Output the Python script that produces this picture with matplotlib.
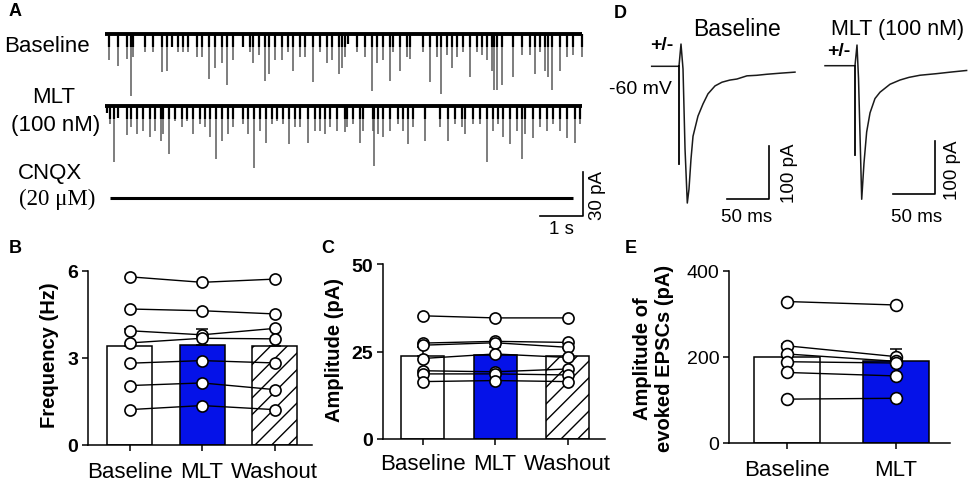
import matplotlib
matplotlib.use('Agg')
import matplotlib.pyplot as plt
import numpy as np

plt.rcParams['font.family'] = ['Liberation Sans', 'DejaVu Sans']
plt.rcParams['hatch.linewidth'] = 1.0

# ---------------- data ----------------
# Panel A: spontaneous EPSC events (time in s, amplitude in pA)
trace_dur = 11.1
base_t = [0.09, 0.30, 0.51, 0.60, 0.65, 0.93, 1.12, 1.33, 1.44, 1.56, 1.70, 1.81, 1.93, 2.14, 2.26,
          2.42, 2.56, 2.72, 2.84, 2.98, 3.21, 3.37, 3.44, 3.58, 3.72, 3.81, 3.95, 4.12, 4.26, 4.37,
          4.53, 4.65, 4.84, 5.00, 5.16, 5.28, 5.44, 5.51, 5.58, 5.65, 5.86, 6.05, 6.21, 6.33, 6.47,
          6.63, 6.70, 6.86, 7.02, 7.09, 7.40, 7.56, 7.72, 7.81, 7.95, 8.07, 8.19, 8.33, 8.49, 8.65,
          8.77, 8.88, 9.00, 9.05, 9.12, 9.23, 9.49, 9.70, 9.88, 10.00, 10.12, 10.23, 10.30, 10.40,
          10.58, 10.74, 10.88, 11.09]
base_amp = [18, 22, 17, 42, 16, 12, 12, 26, 25, 9, 12, 12, 12, 16, 16,
            31, 23, 20, 35, 18, 9, 12, 20, 14, 32, 27, 18, 18, 12, 25,
            16, 16, 33, 12, 20, 18, 27, 23, 16, 7, 12, 16, 39, 20, 18,
            32, 12, 25, 16, 17, 12, 33, 16, 41, 14, 23, 16, 12, 29, 12,
            14, 18, 25, 38, 38, 35, 29, 14, 14, 27, 12, 25, 29, 38,
            25, 16, 14, 16]
mlt_t = [0.05, 0.12, 0.21, 0.30, 0.51, 0.60, 0.74, 0.88, 1.05, 1.16, 1.30, 1.35, 1.49, 1.63, 1.79,
         1.91, 2.05, 2.21, 2.33, 2.44, 2.58, 2.72, 2.86, 2.98, 3.21, 3.33, 3.47, 3.60, 3.74, 3.88,
         4.00, 4.14, 4.28, 4.42, 4.53, 4.72, 4.88, 5.00, 5.12, 5.23, 5.40, 5.58, 5.63, 5.77, 5.93,
         6.00, 6.23, 6.26, 6.35, 6.47, 6.63, 6.81, 6.93, 7.05, 7.16, 7.44, 7.79, 7.98, 8.14, 8.30,
         8.37, 8.56, 8.72, 8.88, 9.02, 9.14, 9.26, 9.42, 9.58, 9.70, 9.77, 9.95, 10.12, 10.28,
         10.42, 10.58, 10.74, 10.93, 11.05]
mlt_amp = [5, 12, 38, 8, 20, 14, 19, 17, 21, 17, 24, 19, 33, 10, 14,
           10, 19, 12, 14, 21, 36, 24, 19, 14, 12, 19, 42, 17, 25, 12,
           10, 12, 26, 14, 14, 25, 17, 17, 19, 14, 17, 18, 14, 12, 25,
           17, 17, 41, 19, 21, 17, 12, 17, 26, 14, 24, 14, 24, 12, 14,
           19, 12, 12, 38, 17, 12, 21, 26, 17, 36, 19, 22, 14, 17,
           12, 17, 22, 25, 12]
cnqx_span = [0.12, 10.88]

# Panel D: evoked EPSC traces (time in ms, current in pA)
d1_t = [2, 34.5, 36.9, 39.3, 41.7, 44.4, 46.4, 48.8, 51.2, 57.1, 63.1, 69.0, 77.4, 85.7,
        95.0, 103.5, 115.4, 127.0, 139.2, 155.0, 172.6]
d1_i = [0, 0, 42, -5, -156, -258, -232, -175, -132, -94, -71, -52, -37, -30,
        -26, -24, -18, -17, -15, -13, -11]
d1_stim_t = 34.0
d1_stim_min = -184
d2_t = [0, 35.7, 38.1, 39.9, 43.7, 46.4, 49.6, 53.6, 59.5, 65.5, 77.4, 89.3, 100.0,
        113.1, 132.9, 150.0, 168.6]
d2_i = [0, 0, 39, -24, -252, -184, -125, -89, -62, -50, -35, -27, -22,
        -18, -15, -12, -9]
d2_stim_t = 35.2
d2_stim_min = -169

# Panel B: frequency (Hz)
freq_base = [5.80, 4.69, 3.94, 3.52, 2.82, 2.05, 1.22]
freq_mlt = [5.61, 4.63, 3.80, 3.68, 2.91, 2.14, 1.36]
freq_wash = [5.72, 4.52, 4.02, 3.66, 2.83, 1.91, 1.22]
freq_mean = [3.41, 3.44, 3.41]
freq_sem = [0.60, 0.56, 0.60]

# Panel C: amplitude (pA)
amp_base = [35.2, 27.4, 26.8, 23.0, 19.5, 18.6, 16.4]
amp_mlt = [34.6, 27.9, 27.5, 24.3, 19.2, 18.6, 16.7]
amp_wash = [34.6, 27.6, 26.2, 23.3, 20.0, 18.3, 16.4]
amp_mean = [23.8, 24.1, 23.8]
amp_sem = [2.4, 2.3, 2.3]

# Panel E: evoked EPSC amplitude (pA)
epsc_base = [329, 226, 207, 189, 164, 102]
epsc_mlt = [321, 201, 190, 186, 156, 104]
epsc_mean = [201, 191]
epsc_sem = [30, 28]

cond3 = ['Baseline', 'MLT', 'Washout']
cond2 = ['Baseline', 'MLT']
BLUE = '#0512E8'

# ---------------- figure ----------------
W, H = 969, 485
fig = plt.figure(figsize=(W / 100, H / 100), dpi=100)


def px_axes(l, t, r, b):
    return fig.add_axes([l / W, 1 - b / H, (r - l) / W, (b - t) / H])


def ftext(x, y, s, **kw):
    kw.setdefault('ha', 'center')
    kw.setdefault('va', 'center')
    fig.text(x / W, 1 - y / H, s, **kw)


# ---- Panel A ----
PX_S = 43.0
PX_PA = 44.0 / 30.0
axA = px_axes(100, 20, 620, 240)
axA.set_xlim(-5 / PX_S, 515 / PX_S)
axA.set_ylim(-205 / PX_PA, 15 / PX_PA)
axA.axis('off')
off_mlt = -72 / PX_PA
off_cnqx = -164 / PX_PA
for tt, aa, off in [(base_t, base_amp, 0.0), (mlt_t, mlt_amp, off_mlt)]:
    aa = np.array(aa)
    axA.vlines(tt, off, off - aa, color='#5a5a5a', lw=1.1)
    axA.vlines(tt, off, off - np.minimum(aa, 9), color='k', lw=1.6)
    axA.plot([0, trace_dur], [off, off], color='k', lw=2.8, solid_capstyle='butt')
axA.plot(cnqx_span, [off_cnqx, off_cnqx], color='k', lw=2.2, solid_capstyle='butt')
sb_x = 478 / PX_S
sb_top = -138 / PX_PA
sb_bot = -182 / PX_PA
axA.plot([sb_x - 1, sb_x, sb_x], [sb_bot, sb_bot, sb_top], color='k', lw=1.2)
axA.text(sb_x + 15 / PX_S, (sb_top + sb_bot) / 2, '30 pA', rotation=90, fontsize=13.5,
         ha='center', va='center')
axA.text(sb_x - 0.5, sb_bot - 13 / PX_PA, '1 s', fontsize=13.5, ha='center', va='center')

ftext(47, 46, 'Baseline', fontsize=16)
ftext(54, 98, 'MLT', fontsize=16)
ftext(56, 125, '(100 nM)', fontsize=16)
ftext(50, 173, 'CNQX', fontsize=16)
ftext(57, 199, '(20 \u03bcM)', fontsize=16.5, family=['Liberation Serif', 'DejaVu Serif'])

# ---- Panel D ----
PX_MS = 42.0 / 50.0
PX_PAD = 53.0 / 100.0
axD1 = px_axes(640, 30, 818, 230)
axD1.set_xlim(-10 / PX_MS, 168 / PX_MS)
axD1.set_ylim(-162.7 / PX_PAD, 37.3 / PX_PAD)
axD1.axis('off')
axD1.plot(d1_t, d1_i, color='#1a1a1a', lw=1.1)
axD1.plot([d1_stim_t, d1_stim_t], [0, d1_stim_min], color='k', lw=1.3)
s1x = 119 / PX_MS
axD1.plot([s1x - 50, s1x, s1x], [-250, -250, -150], color='k', lw=1.2)
axD1.text(s1x - 27, -284, '50 ms', fontsize=13.5, ha='center', va='center')
axD1.text(s1x + 25, -200, '100 pA', rotation=90, fontsize=13.5, ha='center', va='center')

axD2 = px_axes(820, 30, 969, 230)
axD2.set_xlim(-5 / PX_MS, 144 / PX_MS)
axD2.set_ylim(-163.3 / PX_PAD, 36.7 / PX_PAD)
axD2.axis('off')
axD2.plot(d2_t, d2_i, color='#1a1a1a', lw=1.1)
axD2.plot([d2_stim_t, d2_stim_t], [0, d2_stim_min], color='k', lw=1.3)
s2x = 110 / PX_MS
axD2.plot([s2x - 50, s2x, s2x], [-242, -242, -142], color='k', lw=1.2)
axD2.text(s2x - 22, -285, '50 ms', fontsize=13.5, ha='center', va='center')
axD2.text(s2x + 21, -195, '100 pA', rotation=90, fontsize=13.5, ha='center', va='center')

ftext(737, 29, 'Baseline', fontsize=16.5)
ftext(898, 29, 'MLT (100 nM)', fontsize=15.5)
ftext(662, 45, '+/-', fontsize=14, weight='bold')
ftext(839, 52, '+/-', fontsize=14, weight='bold')
ftext(640, 90, '-60 mV', fontsize=14)


# ---- bar panels ----
def bar_panel(ax, groups, means, sems, colors, hatches, width, ylim, yticks,
              labels, tick_bold, ms, xpad):
    x = np.arange(len(means))
    bars = ax.bar(x, means, width, color=colors, edgecolor='k', linewidth=1.1, zorder=1)
    for b, h in zip(bars, hatches):
        if h:
            b.set_hatch(h)
    ax.errorbar(x, means, yerr=[np.zeros(len(x)), sems], fmt='none', ecolor='k',
                elinewidth=1.1, capsize=4.5, capthick=1.1, zorder=2)
    vals = np.array(groups)
    for j in range(vals.shape[1]):
        ax.plot(x, vals[:, j], '-o', color='k', lw=1.0, ms=ms, mfc='white', mec='k',
                mew=1.2, zorder=3, clip_on=False)
    ax.set_ylim(*ylim)
    ax.set_yticks(yticks)
    ax.set_xticks(x)
    ax.set_xticklabels(labels, fontsize=16)
    for s in ['top', 'right']:
        ax.spines[s].set_visible(False)
    for s in ['left', 'bottom']:
        ax.spines[s].set_linewidth(1.1)
    ax.tick_params(axis='y', direction='out', length=4, width=1.1, pad=3, labelsize=14)
    ax.tick_params(axis='x', direction='out', length=4.3, width=1.1, pad=xpad)
    for lab in ax.get_yticklabels():
        lab.set_fontweight('bold' if tick_bold else 'normal')
    ax.set_facecolor('none')


axB = px_axes(88, 272, 312, 446)
axB.set_xlim(-41.5 / 72.5, 182.5 / 72.5)
bar_panel(axB, [freq_base, freq_mlt, freq_wash], freq_mean, freq_sem,
          ['white', BLUE, 'white'], [None, None, '//'], 45 / 72.5, (0, 6), [0, 3, 6],
          cond3, True, 8, 7.5)

axC = px_axes(383, 265, 605, 440)
axC.set_xlim(-39.5 / 72.5, 182.5 / 72.5)
bar_panel(axC, [amp_base, amp_mlt, amp_wash], amp_mean, amp_sem,
          ['white', BLUE, 'white'], [None, None, '//'], 43 / 72.5, (0, 50), [0, 25, 50],
          cond3, True, 8, 6)

axE = px_axes(729, 272, 950, 444)
axE.set_xlim((729 - 787) / 108.5, (950 - 787) / 108.5)
bar_panel(axE, [epsc_base, epsc_mlt], epsc_mean, epsc_sem,
          ['white', BLUE], [None, None], 66 / 108.5, (0, 400), [0, 200, 400],
          cond2, False, 8.5, 7.5)

ftext(50, 355, 'Frequency (Hz)', rotation=90, fontsize=14.5, weight='bold')
ftext(334, 350, 'Amplitude (pA)', rotation=90, fontsize=14.5, weight='bold')
ftext(643, 359, 'Amplitude of', rotation=90, fontsize=14.5, weight='bold')
ftext(664, 358, 'evoked EPSCs (pA)', rotation=90, fontsize=14.5, weight='bold')

# panel letters
for (lx, ly, letter) in [(15, 12, 'A'), (15, 249, 'B'), (328, 249, 'C'),
                         (620, 13, 'D'), (631, 249, 'E')]:
    ftext(lx, ly, letter, fontsize=13, weight='bold')

fig.savefig('out.png', dpi=100)
